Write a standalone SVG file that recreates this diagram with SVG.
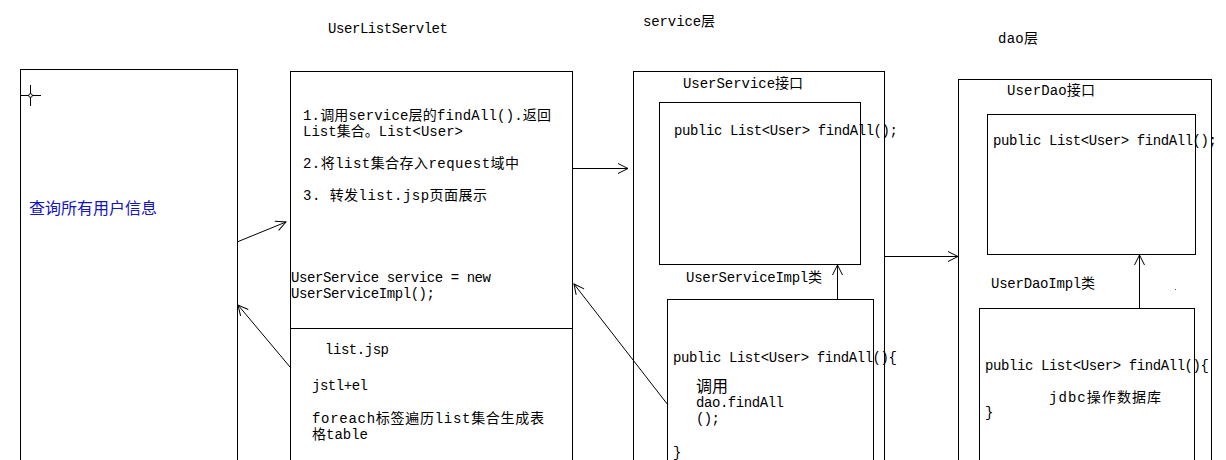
<svg xmlns="http://www.w3.org/2000/svg" width="1226" height="460" viewBox="0 0 1226 460">
<defs>
<style>
.b{fill:none;stroke:#000;stroke-width:1}
.t{font-family:"Liberation Mono","Noto Sans CJK SC",monospace;font-size:14px;fill:#000}
.c{stroke:#000;stroke-width:1;fill:none}
</style>
<marker id="a" viewBox="0 0 12 12" refX="11" refY="6" markerWidth="12" markerHeight="12" markerUnits="userSpaceOnUse" orient="auto">
<path d="M1,1 L11,6 L1,11" fill="none" stroke="#000" stroke-width="1"/>
</marker>
</defs>
<rect width="1226" height="460" fill="#fff"/>

<g id="title-servlet"><text class="t" x="328" y="33" textLength="120" lengthAdjust="spacing">UserListServlet</text></g>
<g id="title-service"><text class="t" x="643" y="26" textLength="72" lengthAdjust="spacing">service层</text></g>
<g id="title-dao"><text class="t" x="998" y="43" textLength="40" lengthAdjust="spacing">dao层</text></g>

<g id="client">
<rect class="b" x="20.5" y="69.5" width="217" height="400"/>
<line class="c" x1="20" y1="95.5" x2="41" y2="95.5"/>
<line class="c" x1="30.5" y1="85" x2="30.5" y2="106"/>
<circle cx="30.5" cy="95.5" r="1.8" fill="#fff" stroke="#000" stroke-width="1"/>
<text x="29" y="214" font-family="'Noto Sans CJK SC',sans-serif" font-size="16" fill="#1414c0" textLength="128" lengthAdjust="spacing">查询所有用户信息</text>
</g>

<g id="servlet">
<rect class="b" x="290.5" y="71.5" width="282" height="400"/>
<line class="c" x1="290" y1="328.5" x2="572" y2="328.5"/>
<text class="t" x="303" y="120" textLength="248" lengthAdjust="spacing">1.调用service层的findAll().返回</text>
<text class="t" x="303" y="136" textLength="160" lengthAdjust="spacing">List集合。List&lt;User&gt;</text>
<text class="t" x="303" y="168" textLength="216" lengthAdjust="spacing">2.将list集合存入request域中</text>
<text class="t" x="303" y="200" textLength="184" lengthAdjust="spacing">3. 转发list.jsp页面展示</text>
<text class="t" x="291" y="282" textLength="200" lengthAdjust="spacing">UserService service = new</text>
<text class="t" x="291" y="298" textLength="144" lengthAdjust="spacing">UserServiceImpl();</text>
</g>

<g id="listjsp">
<text class="t" x="325" y="354" textLength="64" lengthAdjust="spacing">list.jsp</text>
<text class="t" x="312" y="390" textLength="56" lengthAdjust="spacing">jstl+el</text>
<text class="t" x="312" y="423" textLength="232" lengthAdjust="spacing">foreach标签遍历list集合生成表</text>
<text class="t" x="312" y="439" textLength="56" lengthAdjust="spacing">格table</text>
</g>

<g id="service-layer">
<rect class="b" x="633.5" y="71.5" width="251" height="400"/>
</g>
<g id="service-interface">
<text class="t" x="683" y="88" textLength="120" lengthAdjust="spacing">UserService接口</text>
<rect class="b" x="659.5" y="102.5" width="201" height="162"/>
<text class="t" x="674" y="135" textLength="224" lengthAdjust="spacing">public List&lt;User&gt; findAll();</text>
</g>
<g id="service-impl">
<text class="t" x="686" y="282" textLength="136" lengthAdjust="spacing">UserServiceImpl类</text>
<rect class="b" x="667.5" y="299.5" width="206" height="170"/>
<text class="t" x="673" y="362" textLength="224" lengthAdjust="spacing">public List&lt;User&gt; findAll(){</text>
<text class="t" x="696" y="392" style="font-size:16px">调用</text>
<text class="t" x="696" y="407" textLength="88" lengthAdjust="spacing">dao.findAll</text>
<text class="t" x="696" y="423" textLength="24" lengthAdjust="spacing">();</text>
<text class="t" x="673" y="457">}</text>
</g>

<g id="dao-layer">
<rect class="b" x="958.5" y="79.5" width="253" height="400"/>
</g>
<g id="dao-interface">
<text class="t" x="1007" y="95" textLength="88" lengthAdjust="spacing">UserDao接口</text>
<rect class="b" x="987.5" y="114.5" width="208" height="140"/>
<text class="t" x="993" y="145" textLength="224" lengthAdjust="spacing">public List&lt;User&gt; findAll();</text>
</g>
<g id="dao-impl">
<text class="t" x="991" y="288" textLength="104" lengthAdjust="spacing">UserDaoImpl类</text>
<rect class="b" x="979.5" y="308.5" width="215" height="170"/>
<text class="t" x="985" y="370" textLength="224" lengthAdjust="spacing">public List&lt;User&gt; findAll(){</text>
<text class="t" x="1049" y="402" textLength="112" lengthAdjust="spacing">jdbc操作数据库</text>
<text class="t" x="985" y="417">}</text>
<rect x="1175" y="289" width="1" height="1" fill="#555"/>
</g>

<g id="connectors">
<line class="c" x1="237" y1="242" x2="286" y2="222" marker-end="url(#a)"/>
<line class="c" x1="290" y1="367" x2="238" y2="305" marker-end="url(#a)"/>
<line class="c" x1="572" y1="168.5" x2="628" y2="168.5" marker-end="url(#a)"/>
<line class="c" x1="668" y1="405" x2="574" y2="284" marker-end="url(#a)"/>
<line class="c" x1="837.5" y1="299" x2="837.5" y2="265" marker-end="url(#a)"/>
<line class="c" x1="884" y1="256.5" x2="958" y2="256.5" marker-end="url(#a)"/>
<line class="c" x1="1139.5" y1="308" x2="1139.5" y2="255" marker-end="url(#a)"/>
</g>
</svg>
